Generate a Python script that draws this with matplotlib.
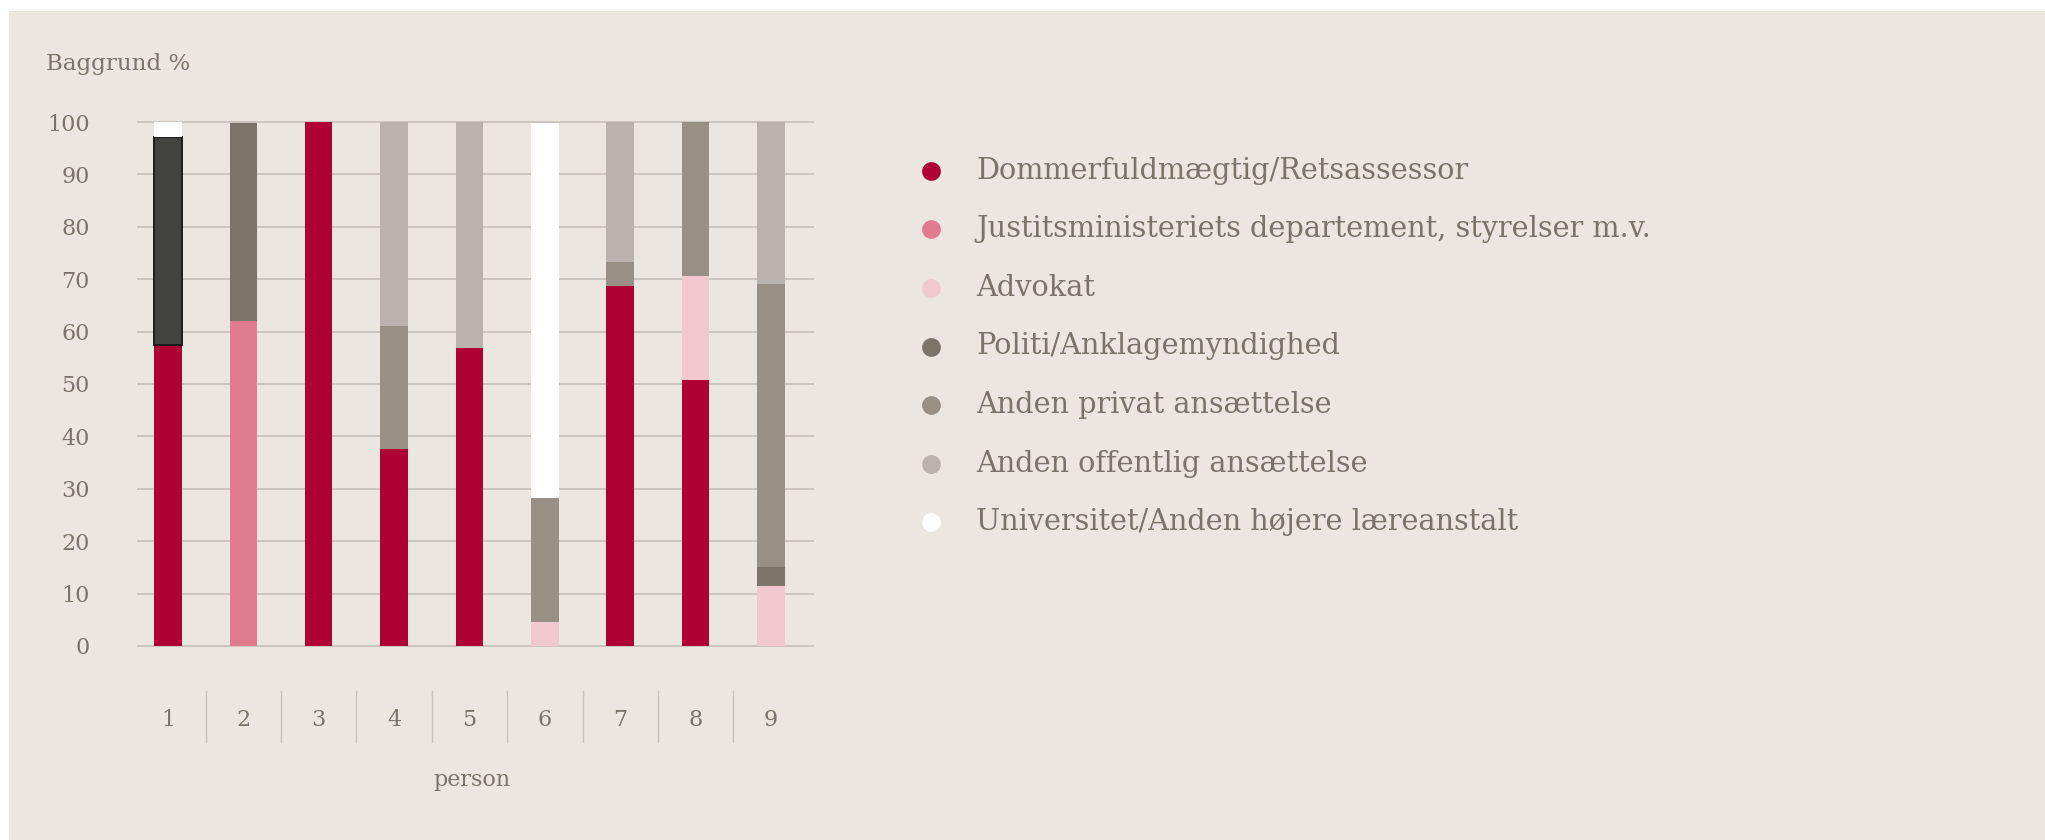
import matplotlib
matplotlib.use("Agg")
import matplotlib.pyplot as plt
import matplotlib.patches as mpatches
from matplotlib.lines import Line2D
from matplotlib.transforms import blended_transform_factory
import numpy as np

# ── Data (percent of background per person) ──────────────────────────────
persons = ["1", "2", "3", "4", "5", "6", "7", "8", "9"]
series_names = [
    "Dommerfuldmægtig/Retsassessor",
    "Justitsministeriets departement, styrelser m.v.",
    "Advokat",
    "Politi/Anklagemyndighed",
    "Anden privat ansættelse",
    "Anden offentlig ansættelse",
    "Universitet/Anden højere læreanstalt",
]
dommer    = [57.4, 0.0, 100.0, 37.6, 56.9, 0.0, 68.7, 50.8, 0.0]
justits   = [0.0, 62.1, 0.0, 0.0, 0.0, 0.0, 0.0, 0.0, 0.0]
advokat   = [0.0, 0.0, 0.0, 0.0, 0.0, 4.6, 0.0, 19.8, 11.5]
politi    = [39.8, 37.7, 0.0, 0.0, 0.0, 0.0, 0.0, 0.0, 3.6]
privat    = [0.0, 0.0, 0.0, 23.5, 0.0, 23.6, 4.6, 29.4, 54.0]
offentlig = [0.0, 0.0, 0.0, 38.9, 43.1, 0.0, 26.7, 0.0, 30.9]
univ      = [2.8, 0.0, 0.0, 0.0, 0.0, 71.6, 0.0, 0.0, 0.0]
series_values = [dommer, justits, advokat, politi, privat, offentlig, univ]

colors = ["#ae0032", "#e07b90", "#f2c8cf", "#7b7569", "#988f85", "#bab3ad", "#ffffff"]
yticks = [0, 10, 20, 30, 40, 50, 60, 70, 80, 90, 100]

# segment shown highlighted (hover state) in the reference: Politi on person 1
highlight = (3, 0)

BG = "#ebe6e0"
TXT = "#7a7469"
GRID = "#c8c2bb"
FONT = "DejaVu Serif"

W, H = 2045, 840
fig = plt.figure(figsize=(W / 100, H / 100), dpi=100)
fig.patch.set_facecolor("white")
fig.add_artist(mpatches.Rectangle((9 / W, 0), 1 - 9 / W, 1 - 11 / H,
                                  transform=fig.transFigure,
                                  facecolor=BG, edgecolor="none", zorder=-10))

ax = fig.add_axes([137 / W, 1 - 647.5 / H, (814 - 137) / W, (647.5 - 120.5) / H])
ax.set_facecolor("none")
for s in ax.spines.values():
    s.set_visible(False)

x = np.arange(len(persons))
bottom = np.zeros(len(persons))
for k, (name, vals) in enumerate(zip(series_names, series_values)):
    vals = np.array(vals)
    bars = ax.bar(x, vals, bottom=bottom, width=0.365, color=colors[k],
                  linewidth=0, zorder=3)
    if k == highlight[0]:
        b = bars[highlight[1]]
        b.set_facecolor("#42423f")
        b.set_edgecolor("#1c1c1c")
        b.set_linewidth(1.4)
    bottom += vals

ax.set_xlim(-0.41, len(persons) - 1 + 0.57)
ax.set_ylim(-0.3, 100.3)
ax.set_yticks(yticks)
ax.set_yticklabels([str(v) for v in yticks])
ax.yaxis.grid(True, color=GRID, linewidth=1.3, zorder=0)
ax.set_axisbelow(True)
ax.tick_params(axis="y", length=0, pad=34, labelsize=16, labelcolor=TXT)
ax.set_xticks(x)
ax.set_xticklabels(persons)
ax.tick_params(axis="x", length=0, pad=44, labelsize=16, labelcolor=TXT)
for lab in ax.get_xticklabels() + ax.get_yticklabels():
    lab.set_fontfamily(FONT)

# separators between categories below the axis
trans = blended_transform_factory(ax.transData, ax.transAxes)
for i in range(len(persons) - 1):
    ax.plot([i + 0.5, i + 0.5], [-0.082, -0.18], transform=trans,
            color=GRID, linewidth=1.0, clip_on=False)

ax.set_xlabel("person", fontsize=16, color=TXT, family=FONT)
ax.xaxis.set_label_coords(0.495, -0.252)
ax.xaxis.label.set_va("center")
fig.text(46 / W, 1 - 64 / H, "Baggrund %", fontsize=16.6, color=TXT,
         family=FONT, ha="left", va="center")

# legend (drawn by hand to match spacing)
for k, name in enumerate(series_names):
    yy = 1 - (171 + 58.5 * k) / H
    fig.add_artist(Line2D([931 / W], [yy], transform=fig.transFigure,
                          marker="o", markersize=13.5, color=colors[k],
                          markeredgewidth=0, linestyle="none"))
    fig.text(976 / W, yy, name, fontsize=20.7, color=TXT, family=FONT,
             ha="left", va="center")

fig.savefig("out.png", dpi=100, facecolor=fig.get_facecolor())
